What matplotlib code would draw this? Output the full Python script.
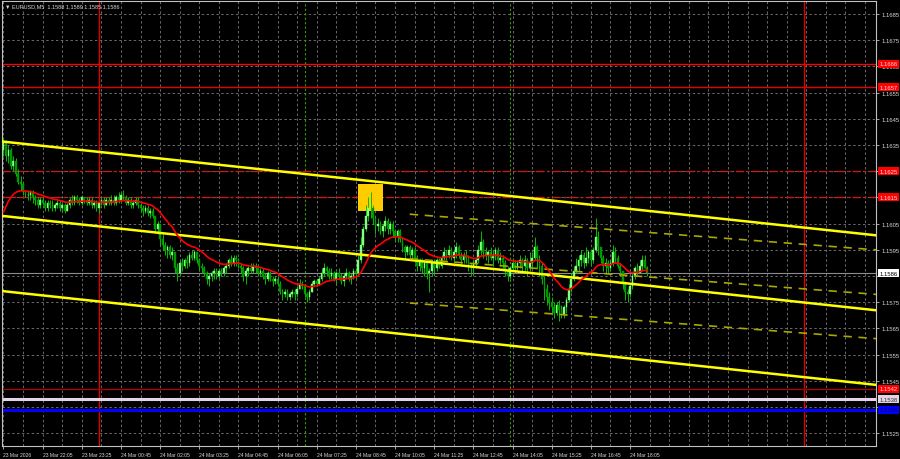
import matplotlib
matplotlib.use('Agg')
from matplotlib import pyplot as plt
from matplotlib import transforms
from matplotlib.patches import Rectangle
import numpy as np
import pandas as pd

# EURUSD M5 bars, prices in pips above 1.1500
BASE = 1.1500
start_time = pd.Timestamp('2026-03-23 20:45')
first_open = 133

closes = [
    136, 131, 133, 127, 129, 124, 121, 120, 117, 116,
    116, 117, 115, 114, 112, 114, 113, 111, 113, 112,
    111, 112, 113, 111, 112, 110, 112, 114, 113, 115,
    114, 113, 115, 114, 113, 114, 112, 113, 111, 113,
    114, 112, 114, 113, 114, 113, 115, 114, 116, 115,
    113, 114, 112, 113, 114, 112, 111, 110, 111, 109,
    110, 108, 103, 105, 99, 97, 95, 96, 93, 94,
    88, 86, 90, 89, 91, 90, 93, 92, 94, 91,
    89, 88, 86, 84, 85, 86, 87, 85, 87, 86,
    88, 89, 91, 90, 92, 91, 89, 88, 85, 87,
    88, 87, 89, 88, 86, 87, 85, 84, 86, 84,
    83, 84, 82, 79, 78, 79, 77, 78, 79, 78,
    80, 82, 81, 78, 77, 79, 82, 83, 82, 84,
    86, 88, 87, 85, 86, 84, 86, 85, 83, 85,
    86, 84, 85, 87, 86, 91, 97, 103, 108, 111,
    111, 107, 104, 105, 102, 104, 106, 103, 105, 102,
    100, 102, 99, 96, 94, 96, 93, 95, 92, 89,
    91, 88, 90, 86, 87, 90, 88, 91, 89, 92,
    94, 93, 95, 92, 94, 96, 93, 91, 93, 92,
    89, 88, 90, 91, 95, 98, 94, 93, 94, 92,
    93, 95, 91, 92, 90, 87, 85, 88, 90, 88,
    90, 91, 89, 91, 88, 90, 92, 96, 92, 89,
    84, 80, 77, 75, 73, 71, 74, 72, 70, 73,
    76, 80, 84, 87, 89, 91, 93, 90, 92, 94,
    91, 95, 100, 96, 92, 89, 90, 88, 90, 94,
    92, 89, 87, 82, 79, 78, 81, 85, 88, 86,
    89, 91, 88, 86,
]
highs = [
    138, 137, 135, 134, 131, 130, 126, 123, 121, 118,
    118, 118, 118, 116, 115, 115, 115, 114, 114, 114,
    114, 113, 114, 114, 113, 113, 113, 115, 116, 116,
    116, 115, 116, 115, 115, 115, 115, 114, 114, 113,
    115, 115, 115, 115, 116, 116, 116, 117, 117, 118,
    116, 115, 115, 114, 115, 115, 113, 112, 112, 112,
    111, 111, 108, 106, 105, 101, 98, 97, 97, 96,
    94, 90, 91, 92, 92, 93, 94, 95, 95, 94,
    92, 90, 89, 87, 86, 87, 88, 88, 88, 88,
    89, 90, 92, 93, 93, 93, 92, 90, 89, 88,
    89, 90, 90, 90, 89, 88, 88, 86, 87, 87,
    85, 85, 85, 83, 80, 80, 80, 79, 80, 80,
    81, 84, 83, 81, 79, 80, 83, 84, 84, 85,
    88, 90, 89, 88, 88, 87, 87, 88, 86, 86,
    88, 87, 86, 88, 88, 93, 100, 104, 112, 115,
    117, 112, 108, 107, 106, 105, 108, 107, 106, 106,
    103, 103, 103, 99, 97, 97, 97, 96, 96, 93,
    92, 92, 91, 90, 88, 91, 91, 92, 92, 93,
    96, 95, 97, 96, 95, 98, 97, 94, 94, 95,
    93, 90, 91, 92, 97, 102, 99, 96, 95, 96,
    95, 96, 96, 94, 93, 91, 89, 89, 92, 91,
    91, 93, 92, 93, 92, 94, 94, 100, 97, 93,
    90, 85, 82, 79, 77, 75, 75, 76, 74, 74,
    77, 82, 86, 89, 92, 93, 95, 94, 96, 95,
    95, 96, 107, 102, 96, 93, 92, 91, 91, 97,
    96, 93, 90, 87, 83, 80, 82, 86, 89, 90,
    91, 93, 93, 89,
]
lows = [
    131, 129, 128, 126, 125, 123, 120, 118, 116, 115,
    114, 114, 113, 112, 111, 111, 112, 110, 110, 111,
    110, 110, 111, 110, 110, 109, 110, 111, 112, 112,
    113, 112, 112, 113, 112, 112, 111, 111, 110, 109,
    112, 111, 112, 112, 112, 112, 112, 113, 113, 114,
    112, 112, 111, 111, 112, 111, 110, 108, 109, 108,
    107, 107, 102, 101, 97, 95, 93, 92, 92, 91,
    86, 83, 85, 87, 88, 88, 89, 91, 91, 90,
    87, 86, 85, 82, 81, 83, 84, 84, 84, 85,
    85, 86, 88, 89, 89, 89, 88, 86, 83, 82,
    85, 86, 86, 86, 85, 85, 84, 82, 83, 83,
    81, 82, 81, 78, 76, 77, 76, 76, 77, 76,
    77, 80, 80, 77, 75, 76, 79, 81, 81, 82,
    83, 85, 85, 84, 84, 83, 82, 84, 82, 81,
    84, 83, 82, 84, 84, 85, 90, 96, 102, 106,
    107, 105, 101, 102, 101, 100, 102, 101, 101, 100,
    98, 98, 98, 94, 92, 93, 92, 91, 90, 87,
    87, 86, 85, 84, 79, 85, 86, 87, 88, 88,
    91, 91, 92, 91, 90, 92, 92, 89, 90, 90,
    87, 85, 86, 88, 90, 93, 92, 91, 90, 91,
    89, 91, 90, 89, 88, 85, 83, 84, 87, 86,
    87, 88, 87, 87, 85, 87, 88, 91, 88, 85,
    82, 76, 74, 72, 71, 69, 70, 68, 69, 69,
    71, 75, 79, 83, 86, 87, 89, 88, 89, 90,
    89, 90, 94, 93, 90, 87, 86, 86, 87, 89,
    90, 88, 85, 80, 76, 75, 77, 80, 84, 85,
    86, 87, 88, 85,
]
# closes of the bars just before the window, used by the moving average only
ma_history = [105, 107, 106, 104, 106, 108, 107, 105, 106, 107,
              109, 108, 106, 105, 107, 106, 108, 107, 109]
ma_period = 20

levels = [1.1666, 1.1657, 1.1625, 1.1615, 1.1586, 1.1542, 1.1538, 1.1534]
level_colors = ['#ff0000', '#e60000', '#c81818', '#c81818', '#8c8c8c', '#b40000', '#e2d4e6', '#0000ff']
level_styles = ['-', '-', (0, (6, 2, 2, 2)), (0, (6, 2, 2, 2)), '-', '-', '-', '-']
level_widths = [1.0, 1.0, 1.0, 1.0, 0.8, 0.9, 2.2, 2.2]
label_bg = ['#ff0000', '#ff0000', '#ff0000', '#ff0000', '#ffffff', '#ff0000', '#e2d4e6', '#0000ff']
label_fg = ['#ffd8d8', '#ffd8d8', '#ffd8d8', '#ffd8d8', '#000000', '#ffd8d8', '#303030', '#000060']

channel_times = ['2026-03-23 20:45', '2026-03-25 00:00']
channel_prices = [[1.16363, 1.16035], [1.16079, 1.15749], [1.15792, 1.15464]]
reg_times = ['2026-03-24 10:35', '2026-03-25 00:00']
reg_prices = [[1.16086, 1.15971], [1.15916, 1.15801], [1.15747, 1.15632]]

box_times = ['2026-03-24 08:50', '2026-03-24 09:40']
box_prices = [1.16098, 1.16201]

day_lines = ['2026-03-24 00:00', '2026-03-25 00:00']
session_lines = ['2026-03-24 07:00', '2026-03-24 14:00']

y_min, y_max = 1.15201, 1.16900
x_left, x_right = -0.6, 356.5


def bar_of(t):
    return (pd.Timestamp(t) - start_time) / pd.Timedelta(minutes=5)


plt.rcParams['font.family'] = ['Liberation Sans', 'DejaVu Sans']

fig = plt.figure(figsize=(9, 4.6), dpi=100, facecolor='black')
ax = fig.add_axes([2 / 900, 13 / 460, 874 / 900, 445 / 460], facecolor='black')

c = BASE + np.array(closes) / 10000
h = BASE + np.array(highs) / 10000
l = BASE + np.array(lows) / 10000
o = np.concatenate([[BASE + first_open / 10000], c[:-1]])
x = np.arange(len(c))

# grid
grid_kw = dict(color='#6a6a6a', lw=0.7, ls=(0, (2.5, 2.5)), zorder=1)
for gx in np.arange(0, x_right, 8):
    ax.axvline(gx, **grid_kw)
yticks = np.round(np.arange(1.1525, 1.1690, 0.001), 4)
for gy in yticks:
    ax.axhline(gy, **grid_kw)

for t in day_lines:
    ax.axvline(bar_of(t), color='#e00000', lw=1.0, zorder=2)
for t in session_lines:
    ax.axvline(bar_of(t), color='#3c9a00', lw=0.8, ls=(0, (2, 2)), zorder=2)

for lv, col, st, w in zip(levels, level_colors, level_styles, level_widths):
    ax.axhline(lv, color=col, ls=st, lw=w, zorder=2)

b0, b1 = bar_of(box_times[0]), bar_of(box_times[1])
ax.add_patch(Rectangle((b0, box_prices[0]), b1 - b0, box_prices[1] - box_prices[0],
                       facecolor='#ffcc00', edgecolor='none', zorder=2.5))

# candles
bull = c >= o
ax.vlines(x, l, h, color='#00c000', lw=0.7, zorder=3)
body_lo = np.minimum(o, c)
body_h = np.abs(c - o)
ax.bar(x[bull], body_h[bull], bottom=body_lo[bull], width=0.7,
       color='#80ff80', edgecolor='#80ff80', lw=0.3, zorder=3.2)
ax.bar(x[~bull], body_h[~bull], bottom=body_lo[~bull], width=0.7,
       color='#009a00', edgecolor='#009a00', lw=0.3, zorder=3.2)

# exponential moving average of the closes
all_closes = pd.Series(BASE + np.array(ma_history + closes) / 10000)
ma = all_closes.ewm(span=ma_period, adjust=False).mean().to_numpy()[len(ma_history):]
ax.plot(x, ma, color='#ff0000', lw=1.2, zorder=5)

# channels
cx0, cx1 = bar_of(channel_times[0]), bar_of(channel_times[1])
for p0, p1 in channel_prices:
    ax.axline((cx0, p0), (cx1, p1), color='#ffff00', lw=1.8, zorder=4)
rx0, rx1 = bar_of(reg_times[0]), bar_of(reg_times[1])
for p0, p1 in reg_prices:
    slope = (p1 - p0) / (rx1 - rx0)
    ax.plot([rx0, x_right], [p0, p0 + slope * (x_right - rx0)],
            color='#a8a800', lw=1.2, ls=(0, (5, 4)), zorder=4)

ax.set_xlim(x_left, x_right)
ax.set_ylim(y_min, y_max)

# axes
for sp in ax.spines.values():
    sp.set_color('#c0c0c0')
    sp.set_linewidth(0.8)
ax.yaxis.tick_right()
ax.set_yticks(yticks)
# ticks hidden completely under a level label are left blank
covered = [1.1625, 1.1615, 1.1585]
ax.set_yticklabels(['' if v in covered else f'{v:.4f}' for v in yticks])
ax.tick_params(axis='y', colors='#c0c0c0', labelcolor='#d8d8d8', labelsize=4.2,
               length=2, width=0.6, pad=2)

xticks = np.arange(0, len(c), 16)
xlabels = []
for b in xticks:
    t = start_time + pd.Timedelta(minutes=5 * int(b))
    xlabels.append(t.strftime('%d %b %Y') if b == 0 else t.strftime('%d %b %H:%M'))
ax.set_xticks(xticks)
ax.set_xticklabels(xlabels, ha='left')
ax.tick_params(axis='x', colors='#c0c0c0', labelcolor='#d8d8d8', labelsize=3.6,
               length=2, width=0.6, pad=2)

# price labels on the right
trans = transforms.blended_transform_factory(ax.transAxes, ax.transData)
for lv, bg, fg in zip(levels, label_bg, label_fg):
    ax.text(1.0 + 3.5 / 874, lv, f'{lv:.4f}', transform=trans, fontsize=4.2, color=fg,
            va='center', ha='left', clip_on=False, zorder=6,
            bbox=dict(boxstyle='square,pad=0.25', fc=bg, ec='none'))

o_last, h_last, l_last, c_last = o[-1], h[-1], l[-1], c[-1]
fig.text(5 / 900, 1 - 7 / 460,
         f'\u25bc EURUSD,M5  {o_last:.4f} {h_last:.4f} {l_last:.4f} {c_last:.4f}',
         color='#d8d8d8', fontsize=4.0, va='center', ha='left')

fig.savefig('out.png', dpi=100, facecolor='black')
